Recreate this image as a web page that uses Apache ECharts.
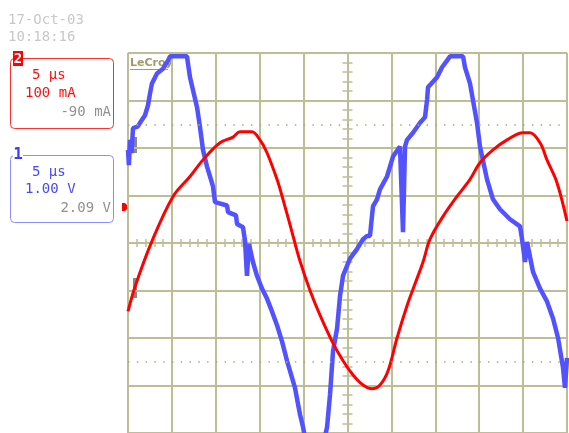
<!DOCTYPE html>
<html>
<head>
<meta charset="utf-8">
<script src="https://cdn.jsdelivr.net/npm/echarts@6/dist/echarts.min.js"></script>
<style>
  html, body { margin: 0; padding: 0; background: #fff; }
  #scope { width: 569px; height: 433px; }
</style>
</head>
<body>
<div id="scope"></div>
<script>
// Timebase: 5 µs/div, 10 divisions, trigger at centre
const timeRange = [-25, 25];
const timePerDiv = 5;
const verticalDivs = 8;

// Channel 1 (voltage): 1.00 V/div, offset 2.09 V   -> [time µs, volts]
// (the flat tops are where the acquisition hit the top of the screen)
const ch1Scale = 1.0;
const ch1Offset = 2.09;
const ch1Trace = [
  [-25.0,-0.13],[-24.9,-0.45],[-24.77,0.08],[-24.6,-0.2],[-24.43,0.33],[-23.9,0.36],
  [-23.63,0.44],[-23.06,0.60],[-22.72,0.81],[-22.49,1.06],[-22.27,1.27],[-21.70,1.48],
  [-21.01,1.58],[-20.44,1.75],[-20.22,1.84],[-19.08,1.84],[-18.28,1.84],[-18.17,1.69],
  [-17.94,1.40],[-17.60,1.13],[-17.14,0.77],[-16.80,0.35],[-16.46,-0.13],[-16.00,-0.48],
  [-15.32,-0.90],[-15.09,-1.23],[-13.72,-1.30],[-13.61,-1.44],[-12.70,-1.51],[-12.58,-1.69],
  [-11.90,-1.76],[-11.67,-2.05],
  [-11.45,-2.78],[-11.22,-2.11],[-10.77,-2.49],[-10.31,-2.78],[-9.74,-3.05],[-9.17,-3.26],
  [-8.60,-3.53],[-8.03,-3.82],[-7.46,-4.16],[-6.89,-4.57],[-6.55,-4.78],[-5.98,-5.14],
  [-5.41,-5.70],[-5.06,-5.97],[-4.73,-6.29],[-3.36,-6.81],[-2.33,-5.97],[-1.99,-5.28],
  [-1.65,-4.37],[-1.19,-3.89],[-0.85,-3.20],[-0.51,-2.78],[0.28,-2.42],[1.08,-2.22],
  [1.77,-2.01],[2.22,-1.94],[2.56,-1.94],[2.90,-1.32],[3.36,-1.17],[3.70,-0.96],
  [4.50,-0.69],[5.18,-0.27],[5.98,-0.06],[6.32,-1.86],[6.55,-0.06],[6.78,0.08],
  [7.46,0.23],[8.26,0.44],[8.83,0.56],[9.06,0.92],[9.17,1.19],[10.20,1.40],
  [10.77,1.61],[11.33,1.75],[11.68,1.84],[12.47,1.84],[13.16,1.84],[13.38,1.61],
  [13.95,1.27],[14.29,0.92],[14.75,0.44],[15.09,-0.06],[15.89,-0.75],[16.57,-1.17],
  [17.37,-1.38],[18.51,-1.59],[19.65,-1.74],[19.88,-2.01],[20.22,-2.49],[20.45,-2.07],
  [21.13,-2.70],[21.93,-3.05],[22.72,-3.32],[23.41,-3.68],[23.98,-4.09],[24.55,-4.72],
  [24.77,-5.14],[25.0,-4.51]
];

// Channel 2 (current): 100 mA/div, offset -90 mA   -> [time µs, mA]
const ch2Scale = 100;
const ch2Offset = -90;
const ch2Trace = [
  [-25.0,-54],[-24.2,-2],[-22.27,94],[-19.87,188],[-17.94,230],[-16.46,265],[-14.52,301],
  [-13.04,313],[-12.24,324],[-10.88,324],[-9.97,307],[-9.17,280],[-8.03,224],[-7.35,182],
  [-6.32,113],[-5.41,52],[-4.27,-10],[-3.13,-62],[-1.76,-117],[-0.51,-158],[0.63,-188],
  [1.77,-209],[2.79,-217],[3.70,-209],[4.62,-179],[5.64,-110],[6.78,-42],[7.69,4],
  [8.60,50],[9.40,98],[10.88,146],[12.47,188],[13.95,224],[15.09,259],[16.57,286],
  [18.17,307],[19.99,322],[20.79,322],[21.93,301],[22.72,265],[23.86,217],[25.0,136]
];

// Readout panel texts
const stampDate = '17-Oct-03';
const stampTime = '10:18:16';
const ch2Readout = ['5 µs', '100 mA', '-90 mA'];
const ch1Readout = ['5 µs', '1.00 V', '2.09 V'];

const gridColor = '#bdbd96';
const mono = '14px "DejaVu Sans Mono"';
const half = verticalDivs / 2;

// y range of a channel so that its offset places it on screen like the scope does
function chRange(scale, offset) {
  const centre = -offset;
  return [centre - half * scale, centre + half * scale];
}
const r1 = chRange(ch1Scale, ch1Offset);
const r2 = chRange(ch2Scale, ch2Offset);

function centreX(inside) {
  return {
    type: 'value', min: timeRange[0], max: timeRange[1], interval: timePerDiv,
    axisLine: { show: true, onZero: true, onZeroAxisIndex: 0, lineStyle: { color: gridColor, width: 2 } },
    axisTick: { show: true, inside: inside, length: 4, lineStyle: { color: gridColor, width: 1.5 } },
    minorTick: { show: true, splitNumber: 5, length: 4, lineStyle: { color: gridColor, width: 1.5 } },
    axisLabel: { show: false }, splitLine: { show: false }
  };
}
function centreY(inside) {
  return {
    type: 'value', min: -half, max: half, interval: 1,
    axisLine: { show: true, onZero: true, onZeroAxisIndex: 0, lineStyle: { color: gridColor, width: 2 } },
    axisTick: { show: true, inside: inside, length: 5, lineStyle: { color: gridColor, width: 1.5 } },
    minorTick: { show: true, splitNumber: 5, length: 5, lineStyle: { color: gridColor, width: 1.5 } },
    axisLabel: { show: false }, splitLine: { show: false }
  };
}

const chart = echarts.init(document.getElementById('scope'), null, { renderer: 'canvas' });

chart.setOption({
  animation: false,
  backgroundColor: '#ffffff',
  grid: { left: 128, right: 2, top: 53, bottom: -3 },
  xAxis: [
    {
      type: 'value', min: timeRange[0], max: timeRange[1], interval: timePerDiv,
      axisLine: { show: false }, axisTick: { show: false }, axisLabel: { show: false },
      splitLine: { show: true, lineStyle: { color: gridColor, width: 2 } }
    },
    centreX(true),
    centreX(false)
  ],
  yAxis: [
    {
      type: 'value', min: -half, max: half, interval: 1,
      axisLine: { show: false }, axisTick: { show: false }, axisLabel: { show: false },
      splitLine: { show: true, lineStyle: { color: gridColor, width: 2 } }
    },
    { type: 'value', min: r1[0], max: r1[1], show: false, splitLine: { show: false } },
    { type: 'value', min: r2[0], max: r2[1], show: false, splitLine: { show: false } },
    centreY(true),
    centreY(false)
  ],
  series: [
    {
      // dotted quarter-screen guides
      type: 'line', xAxisIndex: 0, yAxisIndex: 0, data: [], silent: true,
      markLine: {
        silent: true, symbol: 'none', label: { show: false },
        lineStyle: { color: '#a8a888', width: 1.5, type: [1.5, 7.28] },
        data: [{ yAxis: 2.5 }, { yAxis: -2.5 }]
      }
    },
    {
      name: 'CH1', type: 'line', xAxisIndex: 0, yAxisIndex: 1, data: ch1Trace,
      showSymbol: false, z: 3, clip: true,
      lineStyle: { color: '#5252ff', width: 4.5, join: 'bevel' }
    },
    {
      name: 'CH2', type: 'line', xAxisIndex: 0, yAxisIndex: 2, data: ch2Trace,
      showSymbol: false, z: 4, clip: true, smooth: 0.35,
      lineStyle: { color: '#ff0000', width: 3 }
    }
  ],
  graphic: [
    { type: 'text', x: 8, y: 20, style: { text: stampDate, font: mono, fill: '#c8c8c8', verticalAlign: 'middle' } },
    { type: 'text', x: 8, y: 37, style: { text: stampTime, font: mono, fill: '#c8c8c8', verticalAlign: 'middle' } },

    // channel 2 readout
    { type: 'rect', shape: { x: 10.5, y: 58.5, width: 103, height: 70, r: 4 }, style: { fill: '#fff', stroke: '#ff3030', lineWidth: 1 } },
    { type: 'rect', shape: { x: 13, y: 51, width: 10, height: 15 }, style: { fill: '#ff0000' } },
    { type: 'text', x: 18, y: 59, style: { text: '2', font: 'bold 14px "DejaVu Sans Mono"', fill: '#fff', align: 'center', verticalAlign: 'middle' } },
    { type: 'text', x: 32, y: 75, style: { text: ch2Readout[0], font: mono, fill: '#ff1010', verticalAlign: 'middle' } },
    { type: 'text', x: 25, y: 93, style: { text: ch2Readout[1], font: mono, fill: '#ff1010', verticalAlign: 'middle' } },
    { type: 'text', x: 111, y: 112, style: { text: ch2Readout[2], font: mono, fill: '#909090', align: 'right', verticalAlign: 'middle' } },

    // channel 1 readout
    { type: 'rect', shape: { x: 10.5, y: 155.5, width: 103, height: 67, r: 4 }, style: { fill: '#fff', stroke: '#8c8cff', lineWidth: 1 } },
    { type: 'rect', shape: { x: 13, y: 150, width: 10, height: 12 }, style: { fill: '#fff' } },
    { type: 'text', x: 18, y: 155, style: { text: '1', font: 'bold 16px "DejaVu Sans Mono"', fill: '#3c3cff', align: 'center', verticalAlign: 'middle' } },
    { type: 'text', x: 32, y: 172, style: { text: ch1Readout[0], font: mono, fill: '#4848ff', verticalAlign: 'middle' } },
    { type: 'text', x: 25, y: 189, style: { text: ch1Readout[1], font: mono, fill: '#4848ff', verticalAlign: 'middle' } },
    { type: 'text', x: 111, y: 208, style: { text: ch1Readout[2], font: mono, fill: '#909090', align: 'right', verticalAlign: 'middle' } },

    // trigger level flag
    { type: 'polygon', shape: { points: [[122, 203], [125, 203], [129, 207], [125, 211], [122, 211]] }, style: { fill: '#ff0000' } },

    // ground markers
    { type: 'rect', shape: { x: 133, y: 137, width: 4, height: 16 }, style: { fill: '#888888' } },
    { type: 'rect', shape: { x: 133, y: 278, width: 4, height: 20 }, style: { fill: '#888888' } },

    // maker mark
    { type: 'text', x: 130, y: 63, style: { text: 'LeCroy', font: 'bold 11px "DejaVu Sans"', fill: '#a39a6a', verticalAlign: 'middle' } },
    { type: 'line', shape: { x1: 130, y1: 69.5, x2: 168, y2: 69.5 }, style: { stroke: '#a39a6a', lineWidth: 1 } }
  ]
});
</script>
</body>
</html>
